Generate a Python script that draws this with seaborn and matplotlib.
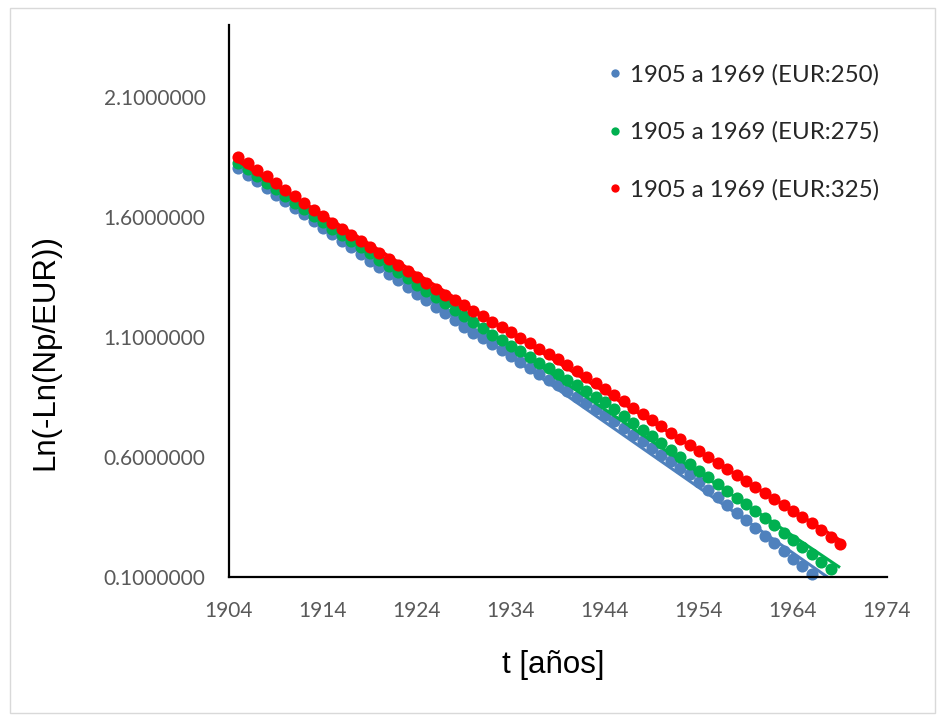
import matplotlib
matplotlib.use("Agg")
import matplotlib.pyplot as plt
import numpy as np
import pandas as pd
import seaborn as sns
from matplotlib.lines import Line2D
from matplotlib.patches import Rectangle
from matplotlib.ticker import FuncFormatter

# Year of each observation
years = list(range(1905, 1970))

# Ln(-Ln(Np/EUR)) for three assumed ultimate recoveries
eur_250 = [1.803, 1.776, 1.748, 1.721, 1.693, 1.666, 1.638, 1.611, 1.583, 1.556,
           1.528, 1.501, 1.473, 1.446, 1.418, 1.391, 1.363, 1.336, 1.308, 1.281,
           1.253, 1.226, 1.198, 1.171, 1.143, 1.118, 1.094, 1.069, 1.045, 1.020,
           0.996, 0.971, 0.947, 0.922, 0.898, 0.873, 0.849, 0.824, 0.800, 0.775,
           0.748, 0.720, 0.693, 0.665, 0.638, 0.610, 0.583, 0.555, 0.528, 0.496,
           0.464, 0.432, 0.400, 0.368, 0.336, 0.304, 0.272, 0.240, 0.208, 0.176,
           0.144, 0.112, 0.074, 0.036, -0.004]
eur_275 = [1.825, 1.798, 1.770, 1.743, 1.715, 1.688, 1.660, 1.633, 1.605, 1.578,
           1.552, 1.526, 1.500, 1.474, 1.448, 1.422, 1.396, 1.370, 1.344, 1.318,
           1.292, 1.266, 1.240, 1.214, 1.188, 1.162, 1.136, 1.110, 1.087, 1.063,
           1.040, 1.016, 0.993, 0.969, 0.946, 0.922, 0.899, 0.875, 0.852, 0.828,
           0.800, 0.771, 0.743, 0.714, 0.686, 0.657, 0.629, 0.600, 0.572, 0.543,
           0.515, 0.487, 0.459, 0.431, 0.403, 0.375, 0.345, 0.315, 0.284, 0.254,
           0.224, 0.194, 0.163, 0.133, 0.080]
eur_325 = [1.851, 1.824, 1.796, 1.769, 1.741, 1.714, 1.686, 1.659, 1.631, 1.604,
           1.576, 1.549, 1.524, 1.499, 1.474, 1.449, 1.424, 1.399, 1.374, 1.349,
           1.324, 1.299, 1.277, 1.254, 1.232, 1.209, 1.187, 1.164, 1.142, 1.119,
           1.097, 1.074, 1.052, 1.029, 1.007, 0.982, 0.958, 0.933, 0.909, 0.884,
           0.858, 0.832, 0.806, 0.780, 0.754, 0.728, 0.702, 0.676, 0.650, 0.624,
           0.599, 0.574, 0.549, 0.524, 0.499, 0.474, 0.449, 0.424, 0.399, 0.374,
           0.349, 0.324, 0.295, 0.266, 0.238]

series_labels = ["1905 a 1969 (EUR:250)", "1905 a 1969 (EUR:275)", "1905 a 1969 (EUR:325)"]
series_colors = ["#4F81BD", "#00B050", "#FF0000"]

x_ticks = [1904, 1914, 1924, 1934, 1944, 1954, 1964, 1974]
y_ticks = [0.1, 0.6, 1.1, 1.6, 2.1]
x_label = "t [años]"
y_label = "Ln(-Ln(Np/EUR))"

sns.set_theme(style="white")
plt.rcParams["font.family"] = ["Lato", "DejaVu Sans"]

W, H = 941, 719
fig = plt.figure(figsize=(W / 100, H / 100), dpi=100)
fig.patch.set_facecolor("white")
ax = fig.add_axes([229 / W, 1 - 577 / H, 658 / W, 552 / H])

x_min, x_max = 1904, 1974
y_min, y_max = 0.1, 2.4

for i, (vals, lab, col) in enumerate(zip([eur_250, eur_275, eur_325], series_labels, series_colors)):
    df = pd.DataFrame({"t": years, "v": vals})
    # linear trend over the whole period
    sns.regplot(data=df, x="t", y="v", scatter=False, ci=None, truncate=True, ax=ax,
                line_kws=dict(color=col, lw=2.2, zorder=2 + 2 * i, solid_capstyle="butt"))
    # points inside the value axis range
    shown = df[df["v"] >= y_min]
    sns.scatterplot(data=shown, x="t", y="v", color=col, s=76, linewidth=0, ax=ax,
                    zorder=2.5 + 2 * i, clip_on=False, legend=False)

ax.set_xlim(x_min, x_max)
ax.set_ylim(y_min, y_max)
ax.set_xticks(x_ticks)
ax.set_yticks(y_ticks)
ax.yaxis.set_major_formatter(FuncFormatter(lambda v, p: f"{v:.7f}"))
ax.tick_params(axis="both", length=0, labelsize=15, labelcolor="#595959")
ax.tick_params(axis="y", pad=17)
ax.tick_params(axis="x", pad=17)
ax.grid(False)

for side in ["top", "right"]:
    ax.spines[side].set_visible(False)
for side in ["left", "bottom"]:
    ax.spines[side].set_color("black")
    ax.spines[side].set_linewidth(1.6)
    ax.spines[side].set_zorder(10)

ax.set_xlabel(x_label, fontsize=22.5, family=["Liberation Sans", "DejaVu Sans"], color="black")
ax.set_ylabel(y_label, fontsize=22.5, family=["Liberation Sans", "DejaVu Sans"], color="black")
ax.xaxis.label.set_va("center")
ax.yaxis.label.set_va("center")
ax.xaxis.set_label_coords((553 - 229) / 658, (577 - 665) / 552)
ax.yaxis.set_label_coords((45 - 229) / 658, (577 - 352) / 552)

handles = [Line2D([], [], marker="o", ls="", color=c, markersize=6, markeredgewidth=0)
           for c in series_colors]
ax.legend(handles, series_labels, loc="upper left", bbox_to_anchor=((608 - 229) / 658, (577 - 64) / 552),
          frameon=False, fontsize=17.3, labelspacing=1.5, handlelength=0.6, handletextpad=0.3,
          borderaxespad=0, borderpad=0, labelcolor="#262626")

# light chart-area frame
fig.patches.append(Rectangle((10 / W, 1 - 713 / H), 925 / W, 705 / H, transform=fig.transFigure,
                             fill=False, ec="#D9D9D9", lw=1.0))

fig.savefig("out.png", dpi=100)
